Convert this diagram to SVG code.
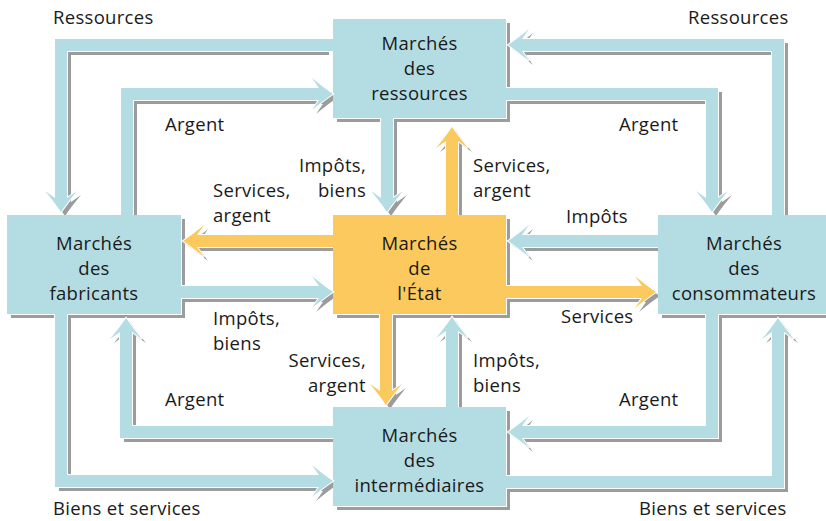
<svg xmlns="http://www.w3.org/2000/svg" xmlns:xlink="http://www.w3.org/1999/xlink" width="826" height="521" viewBox="0 0 826 521">
<defs>
<style>
text{font-family:"Open Sans","DejaVu Sans",sans-serif;font-size:18.5px;letter-spacing:0.3px;fill:#1a1a1a;}
.c{text-anchor:middle;}
.e{text-anchor:end;}
.sh{fill:none;stroke:#9c9c9c;stroke-width:12;stroke-linejoin:miter;}
.shh{fill:#9c9c9c;}
.wo{fill:none;stroke:#fff;stroke-width:14;stroke-linejoin:miter;}
.woh{fill:#fff;stroke:#fff;stroke-width:2;}
.b{fill:none;stroke:#b4dde3;stroke-width:12;stroke-linejoin:miter;}
.o{fill:none;stroke:#fcc95e;stroke-width:12;stroke-linejoin:miter;}
.bh{fill:#b4dde3;}
.oh{fill:#fcc95e;}
.ns{fill:#9c9c9c;}
.nw{fill:#fff;}
.nb{fill:#b4dde3;}
.no{fill:#fcc95e;}
</style>
<path id="hd" d="M0,0 Q-9,-6 -21,-16 L-14,-6 L-14,6 L-21,16 Q-9,6 0,0 Z"/>
</defs>
<rect width="826" height="521" fill="#fff"/>

<g id="connector-shadows">
<path class="sh" d="M329,49 H65 V202"/><use href="#hd" class="shh" transform="translate(65,216) rotate(90)"/>
<path class="sh" d="M131,219 V98 H323"/><use href="#hd" class="shh" transform="translate(337,98)"/>
<path class="sh" d="M510,98 H716 V202"/><use href="#hd" class="shh" transform="translate(716,216) rotate(90)"/>
<path class="sh" d="M782,219 V49 H526"/><use href="#hd" class="shh" transform="translate(512,49) rotate(180)"/>
<path class="sh" d="M337,245 H201"/><use href="#hd" class="shh" transform="translate(187,245) rotate(180)"/>
<path class="sh" d="M185,296 H323"/><use href="#hd" class="shh" transform="translate(337,296)"/>
<path class="sh" d="M662,245 H526"/><use href="#hd" class="shh" transform="translate(512,245) rotate(180)"/>
<path class="sh" d="M510,296 H646"/><use href="#hd" class="shh" transform="translate(660,296)"/>
<path class="sh" d="M391,122 V202"/><use href="#hd" class="shh" transform="translate(391,216) rotate(90)"/>
<path class="sh" d="M456,219 V145"/><use href="#hd" class="shh" transform="translate(456,131) rotate(-90)"/>
<path class="sh" d="M390,318 V395"/><use href="#hd" class="shh" transform="translate(390,409) rotate(90)"/>
<path class="sh" d="M456,411 V335"/><use href="#hd" class="shh" transform="translate(456,321) rotate(-90)"/>
<path class="sh" d="M337,436 H130 V336"/><use href="#hd" class="shh" transform="translate(130,322) rotate(-90)"/>
<path class="sh" d="M65,318 V485 H323"/><use href="#hd" class="shh" transform="translate(337,485)"/>
<path class="sh" d="M716,318 V436 H526"/><use href="#hd" class="shh" transform="translate(512,436) rotate(180)"/>
<path class="sh" d="M510,486 H782 V336"/><use href="#hd" class="shh" transform="translate(782,322) rotate(-90)"/>
</g>

<g id="node-ressources">
<rect class="ns" x="337" y="23" width="173" height="99"/>
<rect class="nw" x="333" y="19" width="174" height="100"/>
<rect class="nb" x="333" y="19" width="173" height="99"/>
<text class="c" x="419.5" y="50">Marchés</text>
<text class="c" x="419.5" y="75">des</text>
<text class="c" x="419.5" y="100">ressources</text>
</g>
<g id="node-fabricants">
<rect class="ns" x="11" y="219" width="174" height="99"/>
<rect class="nw" x="7" y="215" width="175" height="100"/>
<rect class="nb" x="7" y="215" width="174" height="99"/>
<text class="c" x="94" y="250">Marchés</text>
<text class="c" x="94" y="275">des</text>
<text class="c" x="94" y="300">fabricants</text>
</g>
<g id="node-etat">
<rect class="ns" x="337" y="219" width="173" height="99"/>
<rect class="nw" x="333" y="215" width="174" height="100"/>
<rect class="no" x="333" y="215" width="173" height="99"/>
<text class="c" x="419.5" y="250">Marchés</text>
<text class="c" x="419.5" y="275">de</text>
<text class="c" x="419.5" y="300">l'État</text>
</g>
<g id="node-consommateurs">
<rect class="ns" x="662" y="219" width="170" height="99"/>
<rect class="nw" x="658" y="215" width="171" height="100"/>
<rect class="nb" x="658" y="215" width="170" height="99"/>
<text class="c" x="744" y="250">Marchés</text>
<text class="c" x="744" y="275">des</text>
<text class="c" x="744" y="300">consommateurs</text>
</g>
<g id="node-intermediaires">
<rect class="ns" x="337" y="411" width="173" height="99"/>
<rect class="nw" x="333" y="407" width="174" height="100"/>
<rect class="nb" x="333" y="407" width="173" height="99"/>
<text class="c" x="419.5" y="442">Marchés</text>
<text class="c" x="419.5" y="467">des</text>
<text class="c" x="419.5" y="492">intermédiaires</text>
</g>

<g id="connectors">
<path class="wo" d="M333,45 H61 V198"/><use href="#hd" class="woh" transform="translate(61,212) rotate(90)"/>
<path class="wo" d="M127,215 V94 H319"/><use href="#hd" class="woh" transform="translate(333,94)"/>
<path class="wo" d="M506,94 H712 V198"/><use href="#hd" class="woh" transform="translate(712,212) rotate(90)"/>
<path class="wo" d="M778,215 V45 H522"/><use href="#hd" class="woh" transform="translate(508,45) rotate(180)"/>
<path class="wo" d="M333,241 H197"/><use href="#hd" class="woh" transform="translate(183,241) rotate(180)"/>
<path class="wo" d="M181,292 H319"/><use href="#hd" class="woh" transform="translate(333,292)"/>
<path class="wo" d="M658,241 H522"/><use href="#hd" class="woh" transform="translate(508,241) rotate(180)"/>
<path class="wo" d="M506,292 H642"/><use href="#hd" class="woh" transform="translate(656,292)"/>
<path class="wo" d="M387,118 V198"/><use href="#hd" class="woh" transform="translate(387,212) rotate(90)"/>
<path class="wo" d="M452,215 V141"/><use href="#hd" class="woh" transform="translate(452,127) rotate(-90)"/>
<path class="wo" d="M386,314 V391"/><use href="#hd" class="woh" transform="translate(386,405) rotate(90)"/>
<path class="wo" d="M452,407 V331"/><use href="#hd" class="woh" transform="translate(452,317) rotate(-90)"/>
<path class="wo" d="M333,432 H126 V332"/><use href="#hd" class="woh" transform="translate(126,318) rotate(-90)"/>
<path class="wo" d="M61,314 V481 H319"/><use href="#hd" class="woh" transform="translate(333,481)"/>
<path class="wo" d="M712,314 V432 H522"/><use href="#hd" class="woh" transform="translate(508,432) rotate(180)"/>
<path class="wo" d="M506,482 H778 V332"/><use href="#hd" class="woh" transform="translate(778,318) rotate(-90)"/>

<path class="b" d="M333,45 H61 V198"/><use href="#hd" class="bh" transform="translate(61,212) rotate(90)"/>
<path class="b" d="M127,215 V94 H319"/><use href="#hd" class="bh" transform="translate(333,94)"/>
<path class="b" d="M506,94 H712 V198"/><use href="#hd" class="bh" transform="translate(712,212) rotate(90)"/>
<path class="b" d="M778,215 V45 H522"/><use href="#hd" class="bh" transform="translate(508,45) rotate(180)"/>
<path class="o" d="M333,241 H197"/><use href="#hd" class="oh" transform="translate(183,241) rotate(180)"/>
<path class="b" d="M181,292 H319"/><use href="#hd" class="bh" transform="translate(333,292)"/>
<path class="b" d="M658,241 H522"/><use href="#hd" class="bh" transform="translate(508,241) rotate(180)"/>
<path class="o" d="M506,292 H642"/><use href="#hd" class="oh" transform="translate(656,292)"/>
<path class="b" d="M387,118 V198"/><use href="#hd" class="bh" transform="translate(387,212) rotate(90)"/>
<path class="o" d="M452,215 V141"/><use href="#hd" class="oh" transform="translate(452,127) rotate(-90)"/>
<path class="o" d="M386,314 V391"/><use href="#hd" class="oh" transform="translate(386,405) rotate(90)"/>
<path class="b" d="M452,407 V331"/><use href="#hd" class="bh" transform="translate(452,317) rotate(-90)"/>
<path class="b" d="M333,432 H126 V332"/><use href="#hd" class="bh" transform="translate(126,318) rotate(-90)"/>
<path class="b" d="M61,314 V481 H319"/><use href="#hd" class="bh" transform="translate(333,481)"/>
<path class="b" d="M712,314 V432 H522"/><use href="#hd" class="bh" transform="translate(508,432) rotate(180)"/>
<path class="b" d="M506,482 H778 V332"/><use href="#hd" class="bh" transform="translate(778,318) rotate(-90)"/>
</g>

<g id="labels">
<text x="53" y="24">Ressources</text>
<text x="688" y="24">Ressources</text>
<text x="165" y="131">Argent</text>
<text x="619" y="131">Argent</text>
<text class="e" x="366" y="172">Impôts,</text>
<text class="e" x="366" y="197">biens</text>
<text x="213" y="197">Services,</text>
<text x="213" y="222">argent</text>
<text x="473" y="172">Services,</text>
<text x="473" y="197">argent</text>
<text x="566" y="223">Impôts</text>
<text x="213" y="325">Impôts,</text>
<text x="213" y="350">biens</text>
<text class="e" x="366" y="367">Services,</text>
<text class="e" x="366" y="392">argent</text>
<text x="165" y="406">Argent</text>
<text x="561" y="323">Services</text>
<text x="473" y="367">Impôts,</text>
<text x="473" y="392">biens</text>
<text x="619" y="406">Argent</text>
<text x="53" y="515">Biens et services</text>
<text x="639" y="515">Biens et services</text>
</g>
</svg>
